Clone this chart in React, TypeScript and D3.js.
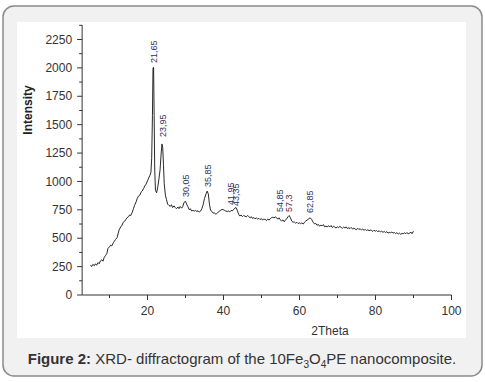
import React from "react";
import * as d3 from "d3";

const twoTheta: number[] = [
  5.0, 5.3, 5.6, 6.0, 6.3, 6.6, 7.0, 7.3, 7.6, 8.0, 8.3, 8.6, 9.0, 9.3, 9.6, 10.0, 10.3, 10.6, 11.0, 11.3, 11.6,
  12.0, 12.3, 12.6, 13.0, 13.3, 13.6, 14.0, 14.3, 14.6, 15.0, 15.3, 15.6, 16.0, 16.3, 16.6, 17.0, 17.3, 17.6,
  18.0, 18.3, 18.6, 19.0, 19.3, 19.6, 20.0, 20.3, 20.6, 20.9, 21.1, 21.3, 21.45, 21.6, 21.75, 21.9, 22.1, 22.4,
  22.7, 23.0, 23.3, 23.6, 23.8, 24.0, 24.2, 24.4, 24.7, 25.0, 25.3, 25.6, 26.0, 26.3, 26.6, 27.0, 27.3, 27.6,
  28.0, 28.3, 28.6, 29.0, 29.3, 29.6, 30.0, 30.3, 30.6, 31.0, 31.3, 31.6, 32.0, 32.3, 32.6, 33.0, 33.3, 33.6,
  34.0, 34.3, 34.6, 35.0, 35.4, 35.7, 36.0, 36.3, 36.6, 37.0, 37.3, 37.6, 38.0, 38.3, 38.6, 39.0, 39.3, 39.6,
  40.0, 40.3, 40.6, 41.0, 41.3, 41.6, 42.0, 42.3, 42.6, 43.0, 43.3, 43.6, 44.0, 44.3, 44.6, 45.0, 45.3, 45.6,
  46.0, 46.3, 46.6, 47.0, 47.3, 47.6, 48.0, 48.3, 48.6, 49.0, 49.3, 49.6, 50.0, 50.3, 50.6, 51.0, 51.3, 51.6,
  52.0, 52.3, 52.6, 53.0, 53.3, 53.6, 54.0, 54.3, 54.6, 55.0, 55.3, 55.6, 56.0, 56.3, 56.6, 57.0, 57.3, 57.6,
  58.0, 58.3, 58.6, 59.0, 59.3, 59.6, 60.0, 60.3, 60.6, 61.0, 61.3, 61.6, 62.0, 62.4, 62.8, 63.2, 63.6, 64.0,
  64.3, 64.6, 65.0, 65.3, 65.6, 66.0, 66.3, 66.6, 67.0, 67.3, 67.6, 68.0, 68.3, 68.6, 69.0, 69.3, 69.6, 70.0,
  70.3, 70.6, 71.0, 71.3, 71.6, 72.0, 72.3, 72.6, 73.0, 73.3, 73.6, 74.0, 74.3, 74.6, 75.0, 75.3, 75.6, 76.0,
  76.3, 76.6, 77.0, 77.3, 77.6, 78.0, 78.3, 78.6, 79.0, 79.3, 79.6, 80.0, 80.3, 80.6, 81.0, 81.3, 81.6, 82.0,
  82.3, 82.6, 83.0, 83.3, 83.6, 84.0, 84.3, 84.6, 85.0, 85.3, 85.6, 86.0, 86.3, 86.6, 87.0, 87.3, 87.6, 88.0,
  88.3, 88.6, 89.0, 89.3, 89.6, 90.0,
];

const intensity: number[] = [
  262, 250, 270, 258, 275, 262, 285, 275, 300, 310, 298, 330, 350, 365, 410, 425, 440, 432, 460, 475, 490,
  505, 545, 580, 600, 615, 640, 650, 665, 680, 690, 705, 700, 730, 760, 790, 820, 850, 870,
  880, 905, 915, 940, 960, 975, 1005, 1030, 1050, 1080, 1200, 1580, 2000, 2005, 1580, 1100, 920, 900,
  950, 1020, 1100, 1250, 1330, 1300, 1150, 980, 880, 840, 800, 790, 780, 795, 770, 785, 770, 760,
  775, 760, 780, 765, 780, 815, 825, 800, 780, 750, 760, 740, 745, 738, 745, 735, 742, 730,
  740, 760, 790, 850, 890, 915, 890, 800, 745, 735, 720, 725, 710, 720, 730, 740, 745, 755,
  750, 745, 740, 735, 742, 730, 745, 740, 750, 765, 770, 748, 710, 695, 705, 690, 700, 695,
  688, 700, 692, 680, 690, 675, 682, 670, 680, 668, 675, 665, 672, 660, 668, 665, 655, 668,
  660, 672, 680, 685, 678, 688, 680, 668, 680, 660, 650, 662, 645, 660, 670, 690, 700, 680,
  650, 640, 645, 632, 640, 630, 635, 628, 635, 625, 640, 650, 660, 670, 680, 665, 640, 625,
  630, 615, 620, 605, 615, 610, 620, 600, 608, 598, 610, 600, 612, 595, 605, 598, 590, 600,
  592, 605, 595, 588, 598, 590, 600, 585, 592, 585, 595, 580, 590, 582, 575, 588, 578, 583,
  572, 580, 570, 578, 568, 575, 565, 572, 568, 560, 570, 562, 568, 558, 565, 555, 562, 552,
  560, 550, 558, 545, 552, 548, 555, 545, 550, 540, 548, 538, 545, 535, 542, 538, 548, 540,
  550, 538, 545, 555, 540, 562,
];

const peakLabels: string[] = ["21,65", "23,95", "30,05", "35,85", "41,95", "43,35", "54,85", "57,3", "62,85"];
const peakPositions: number[] = [21.65, 23.95, 30.05, 35.85, 41.95, 43.35, 54.85, 57.3, 62.85];
const peakLabelBase: number[] = [2043, 1391, 863, 951, 792, 784, 731, 731, 722];

const xMajorTicks: number[] = [20, 40, 60, 80, 100];
const xMinorTicks: number[] = [10, 30, 50, 70, 90];
const yMajorTicks: number[] = [0, 250, 500, 750, 1000, 1250, 1500, 1750, 2000, 2250];

export default function App() {
  const W = 485;
  const H = 382;
  const x = d3.scaleLinear().domain([0, 100]).range([71.5, 451.5]);
  const y = d3.scaleLinear().domain([0, 2250]).range([295, 39.5]);
  const xStart = 2.8;
  const yTop = 2377;
  const yMinor = d3.range(125, 2377, 250);

  const pts: [number, number][] = twoTheta.map((t, i) => [t, intensity[i]]);
  const line = d3
    .line<[number, number]>()
    .x((d) => x(d[0]))
    .y((d) => y(d[1]));

  const font = "'Liberation Sans', Arial, sans-serif";
  const axisColor = "#333";

  return (
    <svg
      width={W}
      height={H}
      style={{ position: "absolute", left: 0, top: 0, background: "#fff" }}
      fontFamily={font}
    >
      <rect x={3} y={6} width={479} height={370} rx={11} ry={11} fill="#f1f1f1" stroke="#8a8a8a" strokeWidth={1.5} />
      <rect x={17} y={22} width={449} height={316} fill="#ffffff" />

      {/* axes */}
      <line x1={x(xStart)} x2={x(xStart)} y1={y(0)} y2={y(yTop)} stroke={axisColor} strokeWidth={1} />
      <line x1={x(xStart)} x2={x(100)} y1={y(0)} y2={y(0)} stroke={axisColor} strokeWidth={1} />

      {yMajorTicks.map((v) => (
        <g key={"ym" + v}>
          <line x1={x(xStart) - 5} x2={x(xStart)} y1={y(v)} y2={y(v)} stroke={axisColor} />
          <text x={x(xStart) - 10} y={y(v)} dy="0.35em" textAnchor="end" fontSize={12} fill="#333">
            {v}
          </text>
        </g>
      ))}
      {yMinor.map((v) => (
        <line key={"yn" + v} x1={x(xStart) - 3} x2={x(xStart)} y1={y(v)} y2={y(v)} stroke={axisColor} />
      ))}
      {xMajorTicks.map((v) => (
        <g key={"xm" + v}>
          <line x1={x(v)} x2={x(v)} y1={y(0)} y2={y(0) + 5} stroke={axisColor} />
          <text x={x(v)} y={y(0) + 20} textAnchor="middle" fontSize={12} fill="#333">
            {v}
          </text>
        </g>
      ))}
      {xMinorTicks.map((v) => (
        <line key={"xn" + v} x1={x(v)} x2={x(v)} y1={y(0)} y2={y(0) + 3} stroke={axisColor} />
      ))}

      <text x={330} y={335} textAnchor="middle" fontSize={12} fill="#333">
        2Theta
      </text>
      <text
        transform={`translate(32,110) rotate(-90)`}
        textAnchor="middle"
        fontSize={12}
        fontWeight="bold"
        fill="#222"
      >
        Intensity
      </text>

      <path d={line(pts) || ""} fill="none" stroke="#111" strokeWidth={0.9} strokeLinejoin="round" />

      {peakLabels.map((lab, i) => (
        <text
          key={lab}
          transform={`translate(${x(peakPositions[i])},${y(peakLabelBase[i])}) rotate(-90)`}
          dy="0.35em"
          textAnchor="start"
          fontSize={9}
          fill={lab === "57,3" ? "#6a1b33" : "#2a3160"}
        >
          {lab}
        </text>
      ))}

      <text x={242} y={364} textAnchor="middle" fontSize={15} fill="#333">
        <tspan fontWeight="bold">Figure 2:</tspan>
        <tspan> XRD- diffractogram of the 10Fe</tspan>
        <tspan fontSize={10} dy={4}>3</tspan>
        <tspan dy={-4}>O</tspan>
        <tspan fontSize={10} dy={4}>4</tspan>
        <tspan dy={-4}>PE nanocomposite.</tspan>
      </text>
    </svg>
  );
}
